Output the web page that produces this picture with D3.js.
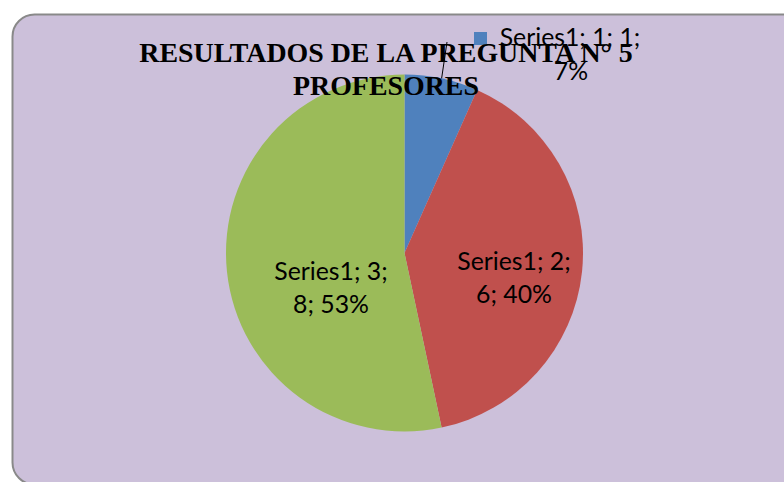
<!DOCTYPE html>
<html><head><meta charset="utf-8">
<script src="https://cdn.jsdelivr.net/npm/d3@7"></script>
<style>html,body{margin:0;padding:0;background:#fff;overflow:hidden}</style>
</head><body>
<svg id="c" width="784" height="482"></svg>
<script>
// ---- data ----
const categories = ["1", "2", "3"];
const seriesName = "Series1";
const values = [1, 6, 8];
const colors = ["#4F81BD", "#C0504D", "#9BBB59"];
const titleLines = ["RESULTADOS DE LA PREGUNTA N° 5", "PROFESORES"];

// ---- layout ----
const cx = 404.5, cy = 253, R = 178.5;
const svg = d3.select("#c");

svg.append("rect").attr("x", 12.5).attr("y", 14.5).attr("width", 800).attr("height", 470)
  .attr("rx", 22).attr("ry", 22).attr("fill", "#CCC0DA").attr("stroke", "#898989").attr("stroke-width", 2);

const total = d3.sum(values);
const pie = d3.pie().sort(null).value(d => d)(values);
const arc = d3.arc().innerRadius(0).outerRadius(R);
const g = svg.append("g").attr("transform", `translate(${cx},${cy})`);
g.selectAll("path").data(pie).join("path").attr("d", arc).attr("fill", (d, i) => colors[i]);

const pct = v => Math.round(v / total * 100) + "%";
const labelFont = "Lato, 'Open Sans', sans-serif";
const fs = 24.8;

// inside labels (slices 2 and 3)
const insideLabel = [null, {x: 514, y: 270}, {x: 331, y: 280}];
[1, 2].forEach(i => {
  const t = svg.append("text").attr("text-anchor", "middle")
    .attr("font-family", labelFont).attr("font-size", fs).attr("fill", "#000");
  t.append("tspan").attr("x", insideLabel[i].x).attr("y", insideLabel[i].y)
    .text(`${seriesName}; ${categories[i]};`);
  t.append("tspan").attr("x", insideLabel[i].x).attr("dy", 33)
    .text(`${values[i]}; ${pct(values[i])}`);
});

// outside label for slice 1 with leader line
const mid = (pie[0].startAngle + pie[0].endAngle) / 2;
const p0 = [cx + R * Math.sin(mid), cy - R * Math.cos(mid)];
svg.append("line").attr("x1", p0[0]).attr("y1", p0[1]).attr("x2", 447).attr("y2", 42)
  .attr("stroke", "#000").attr("stroke-width", 1);
svg.append("rect").attr("x", 474).attr("y", 32).attr("width", 13).attr("height", 13).attr("fill", colors[0]);
const t1 = svg.append("text").attr("text-anchor", "middle")
  .attr("font-family", labelFont).attr("font-size", fs).attr("fill", "#000");
t1.append("tspan").attr("x", 570).attr("y", 46).text(`${seriesName}; ${categories[0]}; ${values[0]};`);
t1.append("tspan").attr("x", 571).attr("dy", 34).text(pct(values[0]));

// title
const tt = svg.append("text").attr("text-anchor", "middle")
  .attr("font-family", "'Liberation Serif', 'Times New Roman', serif").attr("font-weight", "bold")
  .attr("font-size", 27.9).attr("fill", "#000");
tt.append("tspan").attr("x", 386).attr("y", 62).text(titleLines[0]);
tt.append("tspan").attr("x", 386).attr("y", 95).text(titleLines[1]);
</script>
</body></html>
